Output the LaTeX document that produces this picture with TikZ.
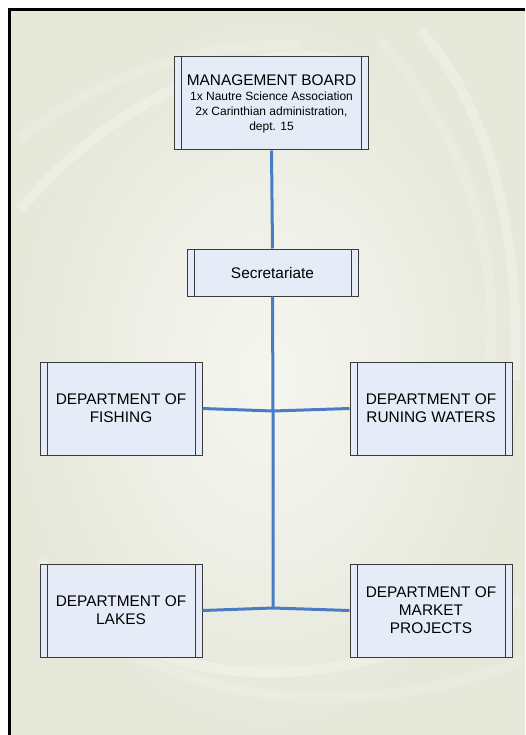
\documentclass[tikz,border=0pt]{standalone}
\usepackage{fontspec}
\setmainfont{Liberation Sans}
\usetikzlibrary{shadings}
\definecolor{bgout}{HTML}{E6E8DA}
\definecolor{bgin}{HTML}{F6F6F1}
\definecolor{boxfill}{HTML}{E6ECF7}
\definecolor{boxline}{HTML}{3A3A3A}
\definecolor{conn}{HTML}{4A7CC4}
\tikzset{
  orgbox/.style={draw=boxline, line width=1pt, fill=boxfill, inner sep=0pt, align=center,
    font=\fontsize{15.4}{18}\selectfont, text=black,
    path picture={
      \draw[boxline, line width=1pt] ([xshift=7pt]path picture bounding box.north west) -- ([xshift=7pt]path picture bounding box.south west);
      \draw[boxline, line width=1pt] ([xshift=-7pt]path picture bounding box.north east) -- ([xshift=-7pt]path picture bounding box.south east);
    }},
  connector/.style={draw=conn, line width=3pt},
  swirl/.style={white, opacity=0.25, line width=10pt}
}
\begin{document}
\begin{tikzpicture}[x=1pt, y=-1pt]
\useasboundingbox (0,0) rectangle (525,735);
\fill[white] (0,0) rectangle (525,735);
\shade[inner color=bgin, outer color=bgout] (11,11) rectangle (525,735);
% faint swirls
\begin{scope}
\clip (11,11) rectangle (525,735);
\draw[swirl] (20,210) .. controls (120,90) and (260,40) .. (340,60);
\draw[swirl, opacity=0.15] (20,140) .. controls (100,70) and (220,40) .. (300,45);
\draw[swirl] (420,30) .. controls (500,120) and (520,260) .. (515,380);
\draw[swirl, opacity=0.15] (380,40) .. controls (470,140) and (500,260) .. (490,360);
\draw[swirl] (40,560) .. controls (120,680) and (300,720) .. (520,600);
\draw[swirl, opacity=0.15] (60,600) .. controls (160,700) and (340,730) .. (525,660);
\end{scope}
% frame
\draw[black, line width=3pt] (9.5,735) -- (9.5,9.5) -- (525,9.5);

\node[orgbox, minimum width=194pt, minimum height=93pt] (mb) at (271.5,103.5)
  {\parbox{190pt}{\centering MANAGEMENT BOARD\par
   \fontsize{12}{15}\selectfont 1x Nautre Science Association\\
    2x Carinthian administration,\\ dept. 15}};
\node[orgbox, minimum width=171pt, minimum height=47pt] (sec) at (272.5,272.5) {Secretariate};
\node[orgbox, minimum width=162pt, minimum height=93pt] (fish) at (121,408.5) {DEPARTMENT OF\\ FISHING};
\node[orgbox, minimum width=162pt, minimum height=93pt] (run) at (431,408.5) {DEPARTMENT OF\\ RUNING WATERS};
\node[orgbox, minimum width=162pt, minimum height=93pt] (lakes) at (121,610.5) {DEPARTMENT OF\\ LAKES};
\node[orgbox, minimum width=162pt, minimum height=93pt] (market) at (431,610.5) {DEPARTMENT OF\\ MARKET\\ PROJECTS};

\coordinate (j1) at (273,411);
\coordinate (j2) at (273,608);
\draw[connector] (mb.south) -- (sec.north);
\draw[connector] (sec.south) -- (j1) -- (j2);
\draw[connector] (fish.east) -- (j1) -- (run.west);
\draw[connector] (lakes.east) -- (j2) -- (market.west);
\end{tikzpicture}
\end{document}
